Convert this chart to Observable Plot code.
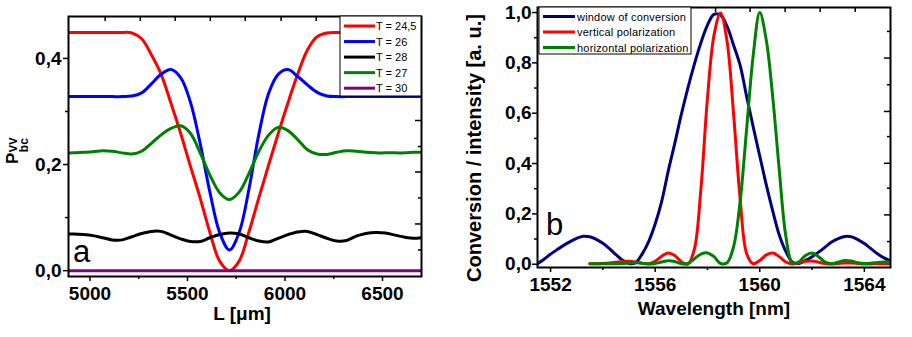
<!DOCTYPE html>
<html><head><meta charset="utf-8">
<script src="https://cdn.jsdelivr.net/npm/d3@7"></script>
<script src="https://cdn.jsdelivr.net/npm/@observablehq/plot@0.6"></script>
<style>
body{margin:0;background:#fff;}
#wrap{position:relative;width:912px;height:337px;overflow:hidden;background:#fff;}
#pa{position:absolute;left:0;top:0;}
#pb{position:absolute;left:460px;top:0;}
</style></head><body>
<div id="wrap"><div id="pa"></div><div id="pb"></div></div>
<script>
// ---------- Panel a data ----------
const L_um = [4865,4915,4965,5015,5065,5115,5165,5215,5265,5315,5365,5415,5465,5515,5565,5615,5665,5715,5765,5815,5865,5915,5965,6015,6065,6115,6165,6215,6265,6315,6365,6415,6465,6515,6565,6615,6665,6715];
const T24_5 = [0.449,0.449,0.449,0.449,0.449,0.449,0.449,0.448,0.437,0.407,0.370,0.316,0.259,0.197,0.137,0.072,0.018,0.000,0.018,0.073,0.136,0.198,0.258,0.316,0.370,0.416,0.441,0.448,0.449,0.449,0.449,0.449,0.449,0.449,0.449,0.449,0.449,0.449];
const T26 = [0.328,0.328,0.328,0.328,0.328,0.328,0.328,0.329,0.335,0.352,0.370,0.379,0.364,0.318,0.240,0.148,0.072,0.039,0.072,0.153,0.255,0.333,0.370,0.379,0.366,0.350,0.336,0.329,0.328,0.328,0.328,0.328,0.328,0.328,0.328,0.328,0.328,0.328];
const T28 = [0.069,0.069,0.068,0.066,0.062,0.058,0.058,0.064,0.070,0.074,0.074,0.067,0.060,0.055,0.055,0.062,0.068,0.071,0.069,0.062,0.056,0.054,0.061,0.068,0.073,0.074,0.068,0.061,0.056,0.057,0.065,0.070,0.072,0.071,0.067,0.063,0.061,0.063];
const T27 = [0.222,0.222,0.223,0.224,0.226,0.225,0.222,0.220,0.225,0.240,0.256,0.268,0.273,0.259,0.222,0.180,0.147,0.134,0.148,0.183,0.224,0.255,0.270,0.264,0.247,0.228,0.220,0.219,0.223,0.226,0.225,0.223,0.222,0.222,0.222,0.222,0.223,0.223];
const T30 = [0,0,0,0,0,0,0,0,0,0,0,0,0,0,0,0,0,0,0,0,0,0,0,0,0,0,0,0,0,0,0,0,0,0,0,0,0,0];
const namesA = ["T = 24,5","T = 26","T = 28","T = 27","T = 30"];
const xMajorA = [5000,5500,6000,6500];
const xMinorA = [5250,5750,6250];
const yMajorA = [0,0.2,0.4];
const yMinorA = [0.1,0.3];
const topTicksA = [5078,5258,5437,5617,5796,5980,6160,6340,6519];
const rightMajorA = [0.088,0.186,0.283,0.380];
const rightMinorA = [0.039,0.137,0.234,0.332,0.429];

// ---------- Panel b data ----------
const wavelength = [1551.5,1551.75,1552,1552.25,1552.5,1552.75,1553,1553.25,1553.5,1553.75,1554,1554.25,1554.5,1554.75,1555,1555.25,1555.5,1555.75,1556,1556.25,1556.5,1556.75,1557,1557.25,1557.5,1557.75,1558,1558.25,1558.5,1558.75,1559,1559.25,1559.5,1559.75,1560,1560.25,1560.5,1560.75,1561,1561.25,1561.5,1561.75,1562,1562.25,1562.5,1562.75,1563,1563.25,1563.5,1563.75,1564,1564.25,1564.5,1564.75,1565];
const windowConv = [0.002,0.020,0.040,0.058,0.075,0.090,0.103,0.111,0.109,0.099,
 0.083,0.062,0.038,0.016,0.003,0.006,0.040,0.090,0.160,0.250,
 0.370,0.480,0.595,0.700,0.795,0.880,0.950,0.993,0.990,0.945,
 0.870,0.790,0.665,0.545,0.430,0.315,0.210,0.115,0.050,0.008,
 0.003,0.015,0.030,0.048,0.068,0.088,0.102,0.110,0.109,0.098,
 0.082,0.062,0.042,0.025,0.013];
const vertPol = [null,null,null,null,null,null,null,null,0.002,0.002,
 0.003,0.005,0.008,0.011,0.012,0.009,0.004,0.002,0.012,0.032,
 0.045,0.035,0.010,0.000,0.060,0.300,0.660,0.910,0.998,0.885,
 0.595,0.260,0.042,0.002,0.015,0.037,0.045,0.030,0.009,0.001,
 0.006,0.012,0.013,0.008,0.003,0.001,0.003,0.005,0.005,0.003,
 0.001,0.001,0.002,0.002,0.002];
const horPol = [null,null,null,null,null,null,null,null,0.002,0.002,
 0.002,0.002,0.002,0.003,0.005,0.006,0.004,0.001,0.003,0.009,
 0.014,0.011,0.002,0.003,0.022,0.040,0.045,0.030,0.003,0.006,
 0.070,0.250,0.540,0.830,1.000,0.890,0.660,0.370,0.110,0.005,
 0.010,0.035,0.045,0.030,0.008,0.002,0.008,0.015,0.013,0.006,
 0.003,0.004,0.007,0.009,0.010];
const namesB = ["window of conversion","vertical polarization","horizontal polarization"];
const xMajorB = [1552,1556,1560,1564];
const xMinorB = [1554,1558,1562];
const yMajorB = [0,0.2,0.4,0.6,0.8,1.0];
const yMinorB = [0.1,0.3,0.5,0.7,0.9];
const topTicksB = [1552.96,1554.30,1555.64,1556.98,1558.31,1559.63,1560.97,1562.31,1563.65];
const rightMajorB = [0.196,0.401,0.607,0.819];
const rightMinorB = [0.090,0.302,0.507,0.713,0.925];

// ---------- styling ----------
const FONT = "'Liberation Sans', Arial, Helvetica, sans-serif";
const colorsA = ["#ff0000","#0000ff","#000000","#008000","#800080"];
const colorsB = ["#000080","#ff0000","#008000"];
const comma = d => d3.format(".1f")(d).replace(".", ",");
const svgStyle = `font-family:${FONT};font-size:19px;font-weight:bold;color:black;background:white;overflow:visible;`;

function frameMarks(inner, xMaj, xMin, yMaj, yMin, topT, rMaj, rMin, yPad) {
  return [
    Plot.axisX({ticks: xMaj, tickSize: 5, tickPadding: 5, tickFormat: d => String(d), label: null, strokeWidth: 1.5}),
    Plot.axisX({ticks: xMin, tickSize: 3, tickFormat: () => "", label: null, strokeWidth: 1.5}),
    Plot.axisY({ticks: yMaj, tickSize: 5, tickPadding: yPad, tickFormat: comma, label: null, strokeWidth: 1.5}),
    Plot.axisY({ticks: yMin, tickSize: 3, tickFormat: () => "", label: null, strokeWidth: 1.5}),
    Plot.tickX(topT, {x: d => d, insetBottom: inner.h - 5, stroke: "black", strokeWidth: 1.5}),
    Plot.tickY(rMaj, {y: d => d, insetLeft: inner.w - 6, stroke: "black", strokeWidth: 1.5}),
    Plot.tickY(rMin, {y: d => d, insetLeft: inner.w - 3, stroke: "black", strokeWidth: 1.5}),
    Plot.frame({stroke: "black", strokeWidth: 2})
  ];
}

// ---------- Panel a ----------
const mA = {l: 68, r: 39, t: 16, b: 61};
const innerA = {w: 460 - mA.l - mA.r, h: 337 - mA.t - mA.b};
const seriesA = [T24_5, T26, T28, T27, T30];
const idxA = d3.range(L_um.length);
const plotA = Plot.plot({
  width: 460, height: 337,
  marginLeft: mA.l, marginRight: mA.r, marginTop: mA.t, marginBottom: mA.b,
  x: {domain: [4890, 6700]},
  y: {domain: [-0.011, 0.479]},
  style: svgStyle,
  marks: [
    ...seriesA.map((vals, k) => Plot.line(idxA, {x: i => L_um[i], y: i => vals[i], stroke: colorsA[k], strokeWidth: 3, curve: "catmull-rom", clip: true})),
    ...frameMarks(innerA, xMajorA, xMinorA, yMajorA, yMinorA, topTicksA, rightMajorA, rightMinorA, 2)
  ]
});
document.getElementById("pa").appendChild(plotA);
{
  const s = d3.select(plotA);
  s.append("text").attr("x", 242).attr("y", 320).attr("text-anchor", "middle")
    .style("font-size", "19px").style("font-weight", "bold").text("L [μm]");
  const yl = s.append("text").attr("transform", "translate(18.3,164) rotate(-90)")
    .attr("text-anchor", "start").style("font-size", "17px").style("font-weight", "bold");
  yl.append("tspan").attr("x", 0).attr("y", 0).text("P");
  yl.append("tspan").attr("x", 11.8).attr("y", -1).style("font-size", "11px").text("VV");
  yl.append("tspan").attr("x", 11.8).attr("y", 10).style("font-size", "12px").text("bc");
  s.append("text").attr("x", 73).attr("y", 262).attr("text-anchor", "start")
    .style("font-size", "31px").style("font-weight", "normal").text("a");
  const lg = s.append("g");
  lg.append("rect").attr("x", 340).attr("y", 16).attr("width", 81).attr("height", 80)
    .attr("fill", "white").attr("stroke", "black").attr("stroke-width", 1);
  namesA.forEach((n, i) => {
    const y = 26 + i * 15.55;
    lg.append("line").attr("x1", 344).attr("x2", 375).attr("y1", y).attr("y2", y)
      .attr("stroke", colorsA[i]).attr("stroke-width", 3);
    lg.append("text").attr("x", 376).attr("y", y + 4).attr("text-anchor", "start")
      .style("font-size", "11px").style("font-weight", "normal").attr("fill", "black").text(n);
  });
}

// ---------- Panel b ----------
const mB = {l: 77, r: 22, t: 7, b: 70};
const innerB = {w: 452 - mB.l - mB.r, h: 337 - mB.t - mB.b};
const seriesB = [windowConv, vertPol, horPol];
const idxB = d3.range(wavelength.length);
const plotB = Plot.plot({
  width: 452, height: 337,
  marginLeft: mB.l, marginRight: mB.r, marginTop: mB.t, marginBottom: mB.b,
  x: {domain: [1551.5, 1565]},
  y: {domain: [-0.013, 1.02]},
  style: svgStyle,
  marks: [
    ...seriesB.map((vals, k) => Plot.line(idxB, {x: i => wavelength[i], y: i => vals[i], stroke: colorsB[k], strokeWidth: 3, curve: "catmull-rom", clip: true})),
    ...frameMarks(innerB, xMajorB, xMinorB, yMajorB, yMinorB, topTicksB, rightMajorB, rightMinorB, 1)
  ]
});
document.getElementById("pb").appendChild(plotB);
{
  const s = d3.select(plotB);
  s.append("text").attr("x", 254).attr("y", 315).attr("text-anchor", "middle")
    .style("font-size", "19px").style("font-weight", "bold").text("Wavelength [nm]");
  s.append("text").attr("transform", "translate(21,148) rotate(-90)").attr("text-anchor", "middle")
    .style("font-size", "20px").style("font-weight", "bold").text("Conversion / intensity [a. u.]");
  s.append("text").attr("x", 86).attr("y", 235).attr("text-anchor", "start")
    .style("font-size", "31px").style("font-weight", "normal").text("b");
  const lg = s.append("g");
  lg.append("rect").attr("x", 79).attr("y", 7).attr("width", 152).attr("height", 47)
    .attr("fill", "white").attr("stroke", "black").attr("stroke-width", 1);
  namesB.forEach((n, i) => {
    const y = 16.5 + i * 15.5;
    lg.append("line").attr("x1", 83).attr("x2", 115).attr("y1", y).attr("y2", y)
      .attr("stroke", colorsB[i]).attr("stroke-width", 3);
    lg.append("text").attr("x", 117).attr("y", y + 4).attr("text-anchor", "start")
      .style("font-size", "11px").style("font-weight", "normal").style("letter-spacing", "0.2px")
      .attr("fill", "black").text(n);
  });
}
</script>
</body></html>
